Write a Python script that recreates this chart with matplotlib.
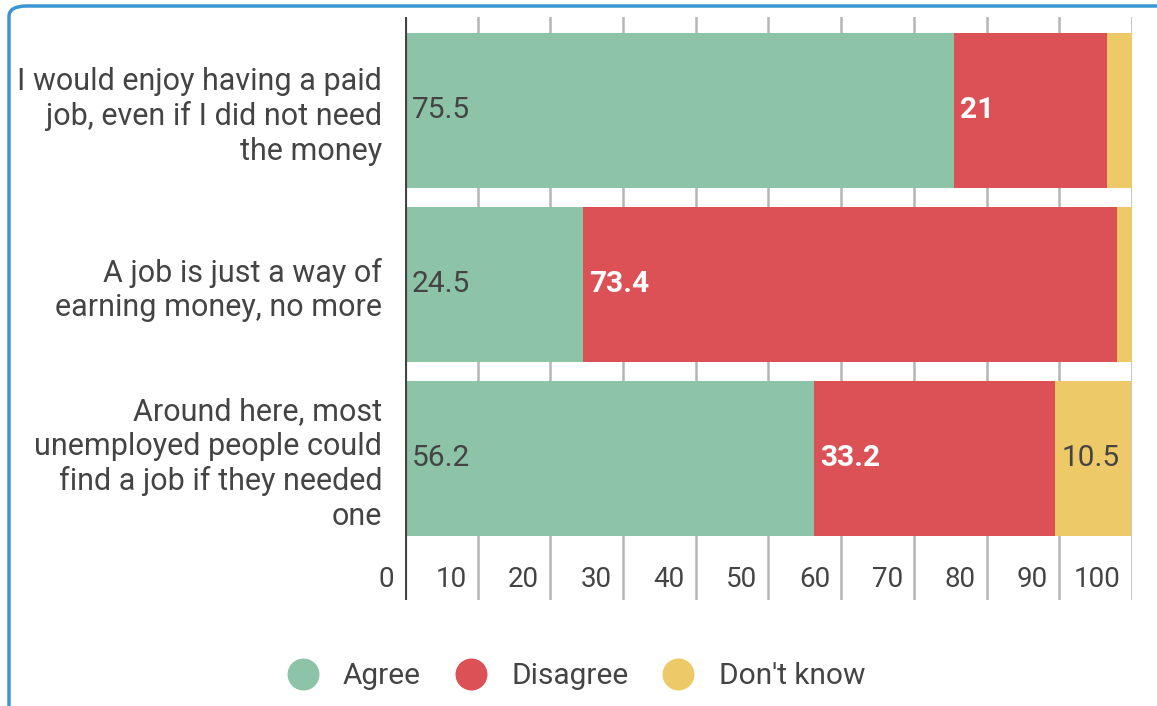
import matplotlib
matplotlib.use("Agg")
import matplotlib.pyplot as plt
from matplotlib.patches import FancyBboxPatch
from matplotlib.lines import Line2D
import matplotlib.transforms as mtransforms

plt.rcParams['font.family'] = ['Roboto', 'DejaVu Sans']

categories = [
    "I would enjoy having a paid\njob, even if I did not need\nthe money",
    "A job is just a way of\nearning money, no more",
    "Around here, most\nunemployed people could\nfind a job if they needed\none",
]
series_names = ["Agree", "Disagree", "Don't know"]
agree = [75.5, 24.5, 56.2]
disagree = [21, 73.4, 33.2]
dont_know = [3.5, 2.1, 10.5]
x_ticks = [0, 10, 20, 30, 40, 50, 60, 70, 80, 90, 100]

colors = ["#8dc3a7", "#db5155", "#eec967"]
label_colors = ["#444444", "#ffffff", "#444444"]
label_weights = ["normal", "bold", "normal"]
text_color = "#444444"
FS_CAT = 22
FS_VAL = 21.5
FS_TICK = 20
FS_LEG = 21.5

fig = plt.figure(figsize=(11.57, 7.06), dpi=100)
ax = fig.add_axes([0.350, 0.1501, 0.9784 - 0.350, 0.9759 - 0.1501])

# rounded border
border = FancyBboxPatch((9 / 1157, -0.05), 1.2, 1.05 - 6 / 706,
                        boxstyle="round,pad=0,rounding_size=0.015",
                        transform=fig.transFigure, fill=False,
                        edgecolor="#3a95d0", linewidth=2.5, zorder=0)
fig.patches.append(border)

ypos = list(range(len(categories)))
bar_h = 0.89
series = [agree, disagree, dont_know]

# gridlines
for t in x_ticks[1:]:
    ax.axvline(t, color="#b5b5b5", linewidth=1.8, zorder=0)

lefts = [0.0] * len(categories)
for s, vals in enumerate(series):
    ax.barh(ypos, vals, left=lefts, height=bar_h, color=colors[s], zorder=2,
            linewidth=0)
    for i, v in enumerate(vals):
        if v >= 5:
            ax.text(lefts[i] + 0.9, ypos[i], f"{v:g}", ha="left", va="center",
                    color=label_colors[s], fontweight=label_weights[s],
                    fontsize=FS_VAL, zorder=3)
    lefts = [l + v for l, v in zip(lefts, vals)]

ax.set_xlim(0, 100)
ax.set_ylim(2 + 0.816, -0.537)
ax.axvline(0, color="#444444", linewidth=3, zorder=4)

for sp in ax.spines.values():
    sp.set_visible(False)
ax.set_xticks([])
ax.set_yticks(ypos)
ax.set_yticklabels(categories, fontsize=FS_CAT, color=text_color, ha="right",
                   linespacing=1.24)
ax.tick_params(axis="y", length=0, pad=16.5)

# x tick labels, placed left of each tick line
offset = mtransforms.ScaledTranslation(-8 / 72, 0, fig.dpi_scale_trans)
for t in x_ticks:
    ax.text(t, 2.70, str(t), ha="right", va="center", fontsize=FS_TICK,
            color=text_color, transform=ax.transData + offset)

handles = [Line2D([0], [0], marker="o", linestyle="none", markersize=22,
                  markerfacecolor=c, markeredgecolor=c) for c in colors]
fig.legend(handles, series_names, loc="center", bbox_to_anchor=(0.497, 1 - 676 / 706),
           ncol=3, frameon=False, fontsize=FS_LEG, labelcolor=text_color,
           handlelength=1.2, handletextpad=0.75, columnspacing=1.07)

fig.savefig("out.png", dpi=100)
